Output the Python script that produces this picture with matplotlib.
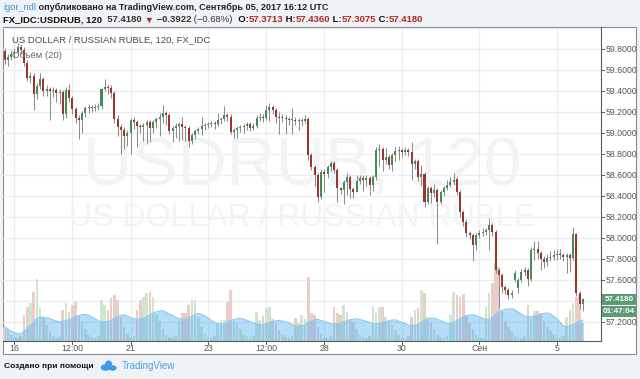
import matplotlib
matplotlib.use('Agg')
import matplotlib.pyplot as plt
import matplotlib.patches as mpatches
from matplotlib.lines import Line2D
from matplotlib.transforms import IdentityTransform
import pandas as pd

# ---------------- data (2-hour bars, Aug 15 18:00 UTC .. Sep 05 16:00 UTC) ----------------
opens = [
    59.78, 59.70, 59.73,
    59.76, 59.77, 59.82, 59.79, 59.67, 59.53, 59.55, 59.37, 59.45, 59.52, 59.40, 59.42,
    59.40, 59.41, 59.38, 59.39, 59.18, 59.41, 59.34, 59.23, 59.15, 59.13, 59.19, 59.24,
    59.25, 59.24, 59.25, 59.26, 59.42, 59.44, 59.43, 59.38, 59.14, 59.06, 59.03, 58.97,
    59.00, 59.13, 59.11, 59.07, 59.06, 59.08, 59.11, 59.05, 59.11, 59.14, 59.16, 59.19,
    59.17, 59.02, 59.05, 59.07, 59.09, 59.06, 59.05, 58.93, 58.98, 59.02, 59.04, 59.07,
    59.08, 59.09, 59.10, 59.09, 59.13, 59.14, 59.17, 59.16, 59.01, 59.03, 59.05, 59.06,
    59.07, 59.09, 59.05, 59.07, 59.15, 59.16, 59.15, 59.22, 59.25, 59.22, 59.16, 59.15,
    59.15, 59.14, 59.13, 59.13, 59.12, 59.12, 59.12, 59.14, 58.79, 58.68, 58.60, 58.39,
    58.63, 58.61, 58.68, 58.72, 58.65, 58.48, 58.46, 58.54, 58.58, 58.47, 58.44, 58.55,
    58.57, 58.56, 58.57, 58.51, 58.58, 58.84, 58.85, 58.75, 58.77, 58.70, 58.79, 58.83,
    58.84, 58.82, 58.84, 58.82, 58.71, 58.74, 58.58, 58.61, 58.35, 58.48, 58.43, 58.46,
    58.35, 58.44, 58.48, 58.51, 58.54, 58.56, 58.44, 58.25, 58.16, 58.05, 58.03, 57.94,
    58.03, 58.05, 58.06, 58.08, 58.13, 58.06, 57.70, 57.65, 57.54, 57.51, 57.46, 57.60,
    57.53, 57.60, 57.68, 57.70, 57.61, 57.89, 57.90, 57.86, 57.80, 57.77, 57.81, 57.82,
    57.84, 57.85, 57.84, 57.82, 57.84, 57.81, 58.04, 57.48, 57.3713,
]
closes = [
    59.70, 59.73, 59.76,
    59.77, 59.82, 59.79, 59.67, 59.53, 59.55, 59.37, 59.45, 59.52, 59.40, 59.42, 59.40,
    59.41, 59.38, 59.39, 59.18, 59.41, 59.34, 59.23, 59.15, 59.13, 59.19, 59.24, 59.25,
    59.24, 59.25, 59.26, 59.42, 59.44, 59.43, 59.38, 59.14, 59.06, 59.03, 58.97, 59.00,
    59.13, 59.11, 59.07, 59.06, 59.08, 59.11, 59.05, 59.11, 59.14, 59.16, 59.19, 59.17,
    59.02, 59.05, 59.07, 59.09, 59.06, 59.05, 58.93, 58.98, 59.02, 59.04, 59.07, 59.08,
    59.09, 59.10, 59.09, 59.13, 59.14, 59.17, 59.16, 59.01, 59.03, 59.05, 59.06, 59.07,
    59.09, 59.05, 59.07, 59.15, 59.16, 59.15, 59.22, 59.25, 59.22, 59.16, 59.15, 59.15,
    59.14, 59.13, 59.13, 59.12, 59.12, 59.12, 59.14, 58.79, 58.68, 58.60, 58.39, 58.63,
    58.61, 58.68, 58.72, 58.65, 58.48, 58.46, 58.54, 58.58, 58.47, 58.44, 58.55, 58.57,
    58.56, 58.57, 58.51, 58.58, 58.84, 58.85, 58.75, 58.77, 58.70, 58.79, 58.83, 58.84,
    58.82, 58.84, 58.82, 58.71, 58.74, 58.58, 58.61, 58.35, 58.48, 58.43, 58.46, 58.35,
    58.44, 58.48, 58.51, 58.54, 58.56, 58.44, 58.25, 58.16, 58.05, 58.03, 57.94, 58.03,
    58.05, 58.06, 58.08, 58.13, 58.06, 57.70, 57.65, 57.54, 57.51, 57.46, 57.48, 57.67,
    57.60, 57.68, 57.70, 57.61, 57.89, 57.90, 57.86, 57.80, 57.77, 57.81, 57.82, 57.84,
    57.85, 57.84, 57.82, 57.84, 57.81, 58.04, 57.48, 57.3713, 57.418,
]
highs = [
    59.81, 59.76, 59.79,
    59.80, 59.86, 59.85, 59.82, 59.70, 59.58, 59.57, 59.48, 59.57, 59.54, 59.46, 59.44,
    59.44, 59.43, 59.42, 59.41, 59.44, 59.47, 59.36, 59.25, 59.17, 59.21, 59.26, 59.28,
    59.27, 59.28, 59.29, 59.43, 59.52, 59.47, 59.46, 59.40, 59.17, 59.09, 59.06, 59.03,
    59.15, 59.16, 59.13, 59.09, 59.10, 59.13, 59.13, 59.13, 59.16, 59.19, 59.27, 59.21,
    59.19, 59.07, 59.10, 59.11, 59.16, 59.08, 59.07, 59.00, 59.04, 59.06, 59.16, 59.10,
    59.11, 59.12, 59.12, 59.19, 59.16, 59.26, 59.19, 59.18, 59.05, 59.07, 59.08, 59.09,
    59.11, 59.11, 59.10, 59.17, 59.19, 59.18, 59.27, 59.29, 59.27, 59.24, 59.20, 59.18,
    59.17, 59.16, 59.24, 59.16, 59.15, 59.15, 59.17, 59.16, 58.81, 58.70, 58.62, 58.66,
    58.66, 58.70, 58.74, 58.74, 58.67, 58.49, 58.56, 58.62, 58.60, 58.49, 58.60, 58.60,
    58.60, 58.60, 58.59, 58.60, 58.87, 58.90, 58.87, 58.86, 58.79, 58.81, 58.87, 58.88,
    58.86, 58.87, 58.86, 58.92, 58.76, 58.76, 58.70, 58.63, 58.50, 58.50, 58.52, 58.48,
    58.46, 58.50, 58.56, 58.58, 58.62, 58.58, 58.46, 58.27, 58.18, 58.07, 58.05, 58.05,
    58.08, 58.10, 58.10, 58.19, 58.15, 58.08, 57.72, 57.67, 57.56, 57.53, 57.51, 57.70,
    57.62, 57.71, 57.73, 57.72, 57.92, 57.97, 57.97, 57.88, 57.83, 57.85, 57.88, 57.89,
    57.90, 57.90, 57.86, 57.86, 57.86, 58.11, 58.05, 57.50, 57.436,
]
lows = [
    59.66, 59.64, 59.70,
    59.72, 59.75, 59.76, 59.64, 59.50, 59.48, 59.22, 59.33, 59.42, 59.36, 59.36, 59.13,
    59.35, 59.30, 59.28, 59.13, 59.15, 59.30, 59.18, 59.10, 58.95, 59.00, 59.16, 59.19,
    59.20, 59.21, 59.22, 59.23, 59.40, 59.37, 59.34, 59.10, 58.97, 58.80, 58.85, 58.88,
    58.80, 59.04, 58.87, 59.00, 58.93, 58.90, 58.92, 59.00, 59.05, 58.97, 59.10, 59.08,
    58.99, 58.92, 58.96, 58.93, 58.94, 58.93, 58.87, 58.90, 58.95, 58.99, 58.98, 59.03,
    59.05, 59.06, 59.04, 59.07, 59.09, 59.12, 59.12, 58.99, 58.96, 58.96, 59.01, 59.00,
    59.03, 59.02, 59.03, 59.05, 59.12, 59.11, 59.13, 59.12, 59.18, 59.10, 58.99, 59.11,
    58.99, 59.08, 58.99, 59.08, 59.03, 59.07, 59.10, 58.75, 58.65, 58.50, 58.35, 58.37,
    58.44, 58.57, 58.64, 58.62, 58.35, 58.42, 58.33, 58.41, 58.38, 58.38, 58.47, 58.52,
    58.45, 58.50, 58.41, 58.45, 58.56, 58.69, 58.64, 58.71, 58.66, 58.64, 58.74, 58.75,
    58.77, 58.79, 58.78, 58.56, 58.66, 58.55, 58.50, 58.30, 58.33, 58.34, 58.39, 57.95,
    58.33, 58.40, 58.46, 58.49, 58.51, 58.41, 58.20, 58.12, 58.01, 57.99, 57.78, 57.89,
    58.00, 58.02, 58.03, 57.89, 58.02, 57.67, 57.34, 57.48, 57.47, 57.42, 57.43, 57.58,
    57.48, 57.58, 57.64, 57.55, 57.59, 57.79, 57.80, 57.70, 57.72, 57.74, 57.78, 57.79,
    57.79, 57.80, 57.78, 57.67, 57.68, 57.79, 57.45, 57.33, 57.3075,
]
volumes = [
    14, 10, 6,
    4, 3, 5, 26, 34, 38, 49, 62, 33, 24, 16, 9,
    5, 3, 4, 31, 38, 29, 36, 39, 25, 20, 12, 6,
    4, 3, 5, 41, 36, 31, 43, 46, 41, 24, 14, 7,
    4, 5, 31, 41, 44, 48, 49, 44, 26, 20, 12, 6,
    4, 3, 5, 20, 28, 28, 36, 41, 41, 24, 14, 7,
    4, 3, 5, 18, 21, 21, 39, 51, 21, 18, 12, 6,
    4, 3, 5, 29, 21, 25, 33, 34, 22, 18, 11, 6,
    4, 3, 5, 23, 18, 26, 22, 64, 28, 26, 14, 7,
    4, 3, 5, 34, 28, 26, 36, 29, 22, 18, 12, 6,
    4, 3, 5, 34, 28, 34, 34, 24, 20, 16, 11, 6,
    4, 3, 5, 24, 31, 33, 51, 48, 24, 18, 12, 6,
    4, 3, 5, 26, 49, 46, 44, 47, 26, 18, 12, 6,
    4, 3, 34, 48, 58, 78, 74, 30, 20, 14, 10, 5,
    4, 3, 5, 36, 22, 30, 30, 28, 20, 14, 10, 6,
    4, 3, 5, 24, 31, 38, 44, 46, 18,
]
time_labels = ['16', '12:00', '21', '23', '12:00', '28', '30', 'Сен', '5']
time_label_bars = [3, 21, 39, 63, 81, 99, 123, 147, 171]
grid_prices = [57.2, 57.4, 57.6, 57.8, 58.0, 58.2, 58.4, 58.6, 58.8, 59.0, 59.2, 59.4, 59.6, 59.8, 60.0]
price_labels = [57.2, 57.6, 57.8, 58.0, 58.2, 58.4, 58.6, 58.8, 59.0, 59.2, 59.4, 59.6, 59.8]
last_price = 57.418
countdown = '01:47:04'
vol_ma_length = 20

# ---------------- figure / layout ----------------
W, H = 640, 379
fig = plt.figure(figsize=(W / 100, H / 100), dpi=100)
fig.patch.set_facecolor('#f0f3f6')
ID = IdentityTransform()
FONT = ['Liberation Sans', 'DejaVu Sans']


def fy(y):
    return H - y


fig.patches.append(mpatches.Rectangle((3, fy(354)), 633, 327, transform=ID,
                                      facecolor='white', edgecolor='#8c8c8c', lw=0.8, zorder=0))

PL, PR, PT, PB = 3, 601, 28, 341
rect = [PL / W, (H - PB) / H, (PR - PL) / W, (PB - PT) / H]
BAR0, STEP = 4.6, 3.23
xlo = (PL - BAR0) / STEP
xhi = (PR - BAR0) / STEP
PX_PER = 105.0
ylo = 59.8 - (PB - 49.3) / PX_PER
yhi = 59.8 + (49.3 - PT) / PX_PER


def price_px(p):
    return 49.3 + (59.8 - p) * PX_PER


n = len(closes)
idx = list(range(n))

# bottom axes: grid, watermark, volume
axv = fig.add_axes(rect, zorder=1)
axv.set_xlim(xlo, xhi)
axv.set_ylim(0, PB - PT)
axv.set_facecolor('white')
axv.axis('off')

# top axes: candles
ax = fig.add_axes(rect, zorder=2)
ax.set_xlim(xlo, xhi)
ax.set_ylim(ylo, yhi)
ax.patch.set_alpha(0)
ax.axis('off')

grid_c = '#eaecef'
for p in grid_prices:
    axv.axhline(PB - price_px(p), color=grid_c, lw=0.8, zorder=0)
for b in time_label_bars:
    axv.axvline(b, color=grid_c, lw=0.8, zorder=0)

# watermark
axv.text(0.50, (PB - 167) / (PB - PT), 'USDRUB, 120', transform=axv.transAxes, ha='center', va='center',
         fontsize=49, color='#f2f3f5', family=FONT, zorder=0.5)
axv.text(0.50, (PB - 218) / (PB - PT), 'US DOLLAR / RUSSIAN RUBLE', transform=axv.transAxes, ha='center',
         va='center', fontsize=23, color='#f2f3f5', family=FONT, zorder=0.5)

# volume
up = [c >= o for o, c in zip(opens, closes)]
vcol = ['#cfe5d0' if u else '#ebcdc8' for u in up]
axv.bar(idx, volumes, width=0.8, color=vcol, zorder=2, linewidth=0)
vma = pd.Series(volumes, dtype=float).rolling(vol_ma_length, min_periods=1).mean()
axv.fill_between(idx, 0, vma, color='#5ab4f0', alpha=0.45, lw=0, zorder=3)
axv.plot(idx, vma, color='#8cc9f0', lw=0.8, zorder=3)

# candles
red, green, wick = '#9e352d', '#468a5c', '#8d8d8d'
ax.vlines(idx, lows, highs, color=wick, lw=0.75, zorder=3)
bottoms = [min(o, c) for o, c in zip(opens, closes)]
heights = [max(abs(c - o), 0.008) for o, c in zip(opens, closes)]
ax.bar(idx, heights, bottom=bottoms, width=0.62, color=[green if u else red for u in up],
       linewidth=0, zorder=4)

# axis separators
fig.lines.append(Line2D([PR, PR], [fy(PT - 1), fy(PB)], transform=ID, color='#5a5a5a', lw=0.8))
fig.lines.append(Line2D([PL, PR], [fy(PB), fy(PB)], transform=ID, color='#5a5a5a', lw=0.8))

# price labels
for p in price_labels:
    y = price_px(p)
    fig.lines.append(Line2D([PR, PR + 3], [fy(y), fy(y)], transform=ID, color='#5a5a5a', lw=0.7))
    fig.text(606, fy(y), f'{p:.4f}', transform=ID, fontsize=6.3, color='#555555', va='center',
             ha='left', family=FONT)

# current price + countdown
ylp = price_px(last_price)
fig.patches.append(mpatches.Rectangle((602, fy(ylp + 5.3)), 34, 10.6, transform=ID, facecolor='#5d9b74',
                                      edgecolor='none'))
fig.text(619, fy(ylp), f'{last_price:.4f}', transform=ID, fontsize=5.8, color='white', va='center',
         ha='center', family=FONT, fontweight='bold')
fig.patches.append(mpatches.Rectangle((602, fy(ylp + 17.2)), 34, 10.4, transform=ID, facecolor='#5d9b74',
                                      edgecolor='none'))
fig.text(619, fy(ylp + 12.0), countdown, transform=ID, fontsize=5.8, color='white', va='center',
         ha='center', family=FONT, fontweight='bold')

# time labels
for lab, b in zip(time_labels, time_label_bars):
    x = BAR0 + STEP * b
    fig.lines.append(Line2D([x, x], [fy(PB), fy(PB + 3)], transform=ID, color='#5a5a5a', lw=0.7))
    fig.text(x, fy(348.5), lab, transform=ID, fontsize=6.3, color='#555555', va='center', ha='center',
             family=FONT)

# header texts
renderer = fig.canvas.get_renderer()


def chain(x, y, parts, size):
    for s, color, weight in parts:
        t = fig.text(x, fy(y), s, transform=ID, fontsize=size, color=color, fontweight=weight,
                     va='center', ha='left', family=FONT)
        x = t.get_window_extent(renderer).x1
    return x


chain(3, 7.5, [('igor_ndl', '#3b8fd9', 'normal'),
               (' опубликовано на TradingView.com, Сентябрь 05, 2017 16:12 UTC', '#222222', 'bold')], 6.6)
RED = '#b0281f'
chain(3, 20, [('FX_IDC:USDRUB, 120', '#111111', 'bold'),
              ('  57.4180', '#333333', 'bold'),
              (' ▼', RED, 'bold'),
              (' −0.3922', '#333333', 'bold'),
              (' (−0.68%)', '#333333', 'normal'),
              ('  O:', '#111111', 'bold'), ('57.3713', RED, 'bold'),
              (' H:', '#111111', 'bold'), ('57.4360', RED, 'bold'),
              (' L:', '#111111', 'bold'), ('57.3075', RED, 'bold'),
              (' C:', '#111111', 'bold'), ('57.4180', RED, 'bold')], 6.8)

fig.text(12, fy(40), 'US DOLLAR / RUSSIAN RUBLE, 120, FX_IDC', transform=ID, fontsize=6.8, color='#4a4a4a',
         va='center', ha='left', family=FONT, zorder=5)
fig.text(12, fy(55.5), 'Объём (20)', transform=ID, fontsize=6.8, color='#666666', va='center', ha='left',
         family=FONT, zorder=5)

# footer
xe = chain(4, 366, [('Создано при помощи', '#111111', 'bold')], 6.0)
lx = xe + 8
fig.patches.append(mpatches.Ellipse((lx + 4, fy(367.5)), 10, 6.5, transform=ID, facecolor='#3d9be9',
                                    edgecolor='none'))
fig.patches.append(mpatches.Ellipse((lx + 7, fy(364)), 7, 7, transform=ID, facecolor='#3d9be9',
                                    edgecolor='none'))
fig.patches.append(mpatches.Ellipse((lx + 11, fy(368)), 8, 5.5, transform=ID, facecolor='#3d9be9',
                                    edgecolor='none'))
chain(lx + 20, 366, [('TradingView', '#4a9fe0', 'normal')], 7.0)

fig.savefig('out.png', dpi=100, facecolor=fig.get_facecolor())
